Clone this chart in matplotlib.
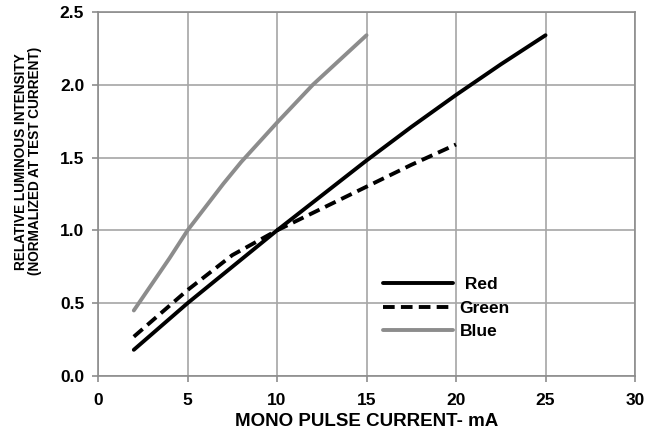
import matplotlib
matplotlib.use("Agg")
import matplotlib.pyplot as plt

red_x = [2, 5, 7.5, 10, 12.5, 15, 17.5, 20, 22.5, 25]
red_y = [0.18, 0.50, 0.75, 1.00, 1.24, 1.48, 1.71, 1.93, 2.14, 2.34]
green_x = [2, 5, 7.5, 10, 12.5, 15, 17.5, 20]
green_y = [0.27, 0.59, 0.83, 1.00, 1.15, 1.30, 1.45, 1.59]
blue_x = [2, 3, 4, 5, 6, 7, 8, 9, 10, 11, 12, 13.5, 15]
blue_y = [0.45, 0.63, 0.81, 1.00, 1.16, 1.32, 1.47, 1.605, 1.74, 1.87, 2.00, 2.17, 2.34]

x_ticks = [0, 5, 10, 15, 20, 25, 30]
y_ticks = [0.0, 0.5, 1.0, 1.5, 2.0, 2.5]
y_tick_labels = ["0.0", "0.5", "1.0", "1.5", "2.0", "2.5"]

plt.rcParams['font.family'] = ['Liberation Sans', 'DejaVu Sans']
plt.rcParams['font.weight'] = 'bold'

fig = plt.figure(figsize=(6.47, 4.36), dpi=100)
ax = fig.add_axes([0.1515, 0.1376, 0.83, 0.835])

grid_c = '#a6a6a6'
ax.plot(red_x, red_y, color='black', lw=2.8, label=' Red', solid_capstyle='round')
ax.plot(green_x, green_y, color='black', lw=2.8, label='Green', dashes=(3.0, 1.6))
ax.plot(blue_x, blue_y, color='#8c8c8c', lw=2.8, label='Blue', solid_capstyle='round')

ax.set_xlim(0, 30)
ax.set_ylim(0, 2.5)
ax.set_xticks(x_ticks)
ax.set_yticks(y_ticks)
ax.set_yticklabels(y_tick_labels)
ax.grid(True, color=grid_c, lw=1.2)
ax.set_axisbelow(True)
for s in ax.spines.values():
    s.set_color('#8c8c8c')
    s.set_linewidth(1.2)
ax.tick_params(axis='both', labelsize=12.5, color='#8c8c8c', length=4, width=1.2)
ax.tick_params(axis='x', pad=8)
ax.tick_params(axis='y', pad=6)
for lbl in ax.get_xticklabels() + ax.get_yticklabels():
    lbl.set_fontweight('bold')

ax.set_xlabel('MONO PULSE CURRENT- mA', fontsize=13.5, fontweight='bold', labelpad=4)
ax.set_ylabel('RELATIVE LUMINOUS INTENSITY\n(NORMALIZED AT TEST CURRENT)', fontsize=9.8,
              fontweight='bold', linespacing=1.0)
ax.yaxis.set_label_coords(-0.104, 0.59)

leg = ax.legend(loc='upper left', bbox_to_anchor=(0.531, 0.273), frameon=False,
                handlelength=4.0, handletextpad=0.4, labelspacing=0.5,
                borderpad=0, borderaxespad=0, prop={'size': 12.5, 'weight': 'bold'})

fig.savefig('out.png', dpi=100)
